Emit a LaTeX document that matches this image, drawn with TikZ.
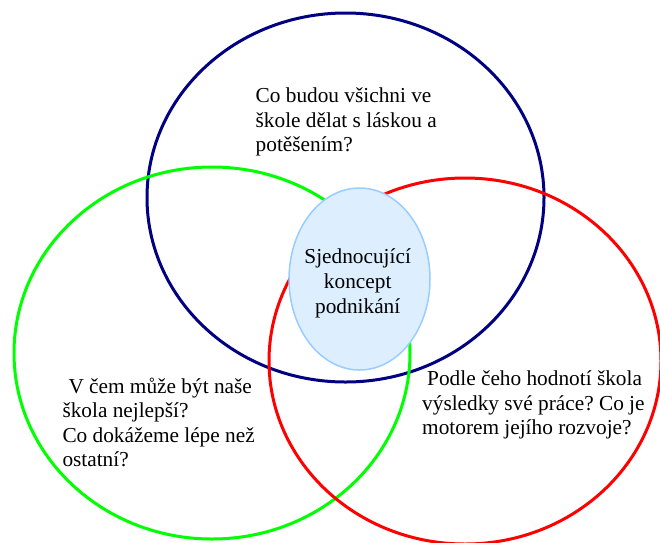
\documentclass[tikz,border=0pt]{standalone}
\usepackage{fontspec}
\setmainfont{Liberation Serif}
\usetikzlibrary{shapes.geometric}
\definecolor{navyc}{HTML}{000080}
\definecolor{greenc}{HTML}{00FF00}
\definecolor{redc}{HTML}{FF0000}
\definecolor{bluefill}{HTML}{DDEEFF}
\definecolor{blueline}{HTML}{99CCFF}
\begin{document}
\frenchspacing
\begin{tikzpicture}[x=1pt,y=-1pt,
  ring/.style={line width=3pt},
  txt/.style={inner sep=0pt,font=\fontsize{21.3}{24.5}\selectfont,align=left},
]
\useasboundingbox (0,0) rectangle (660,542);
\draw[ring,navyc] (345.5,197.5) ellipse [x radius=198.5, y radius=184.5];
\draw[ring,greenc] (212,353) ellipse [x radius=198, y radius=186];
\draw[ring,redc] (465,361) ellipse [x radius=196, y radius=183];
\node[ellipse,draw=blueline,fill=bluefill,line width=1.5pt,minimum width=141pt,minimum height=182pt,inner sep=0pt] (core) at (359.5,279) {};
\node[txt,anchor=north,align=center,font=\fontsize{21.3}{25}\selectfont] (coretext) at (357.7,248) {Sjednocující\\koncept\\podnikání};
\node[txt,anchor=north west] (top) at (255.5,87.5) {Co budou všichni ve\\škole dělat s láskou a\\potěšením?};
\node[txt,anchor=north west] (left) at (62.3,377.5) {\hspace*{6pt}V čem může být naše\\škola nejlepší?\\Co dokážeme lépe než\\ostatní?};
\node[txt,anchor=north west] (right) at (422,370.5) {\hspace*{5pt}Podle čeho hodnotí škola\\výsledky své práce? Co je\\motorem jejího rozvoje?};
\end{tikzpicture}
\end{document}
